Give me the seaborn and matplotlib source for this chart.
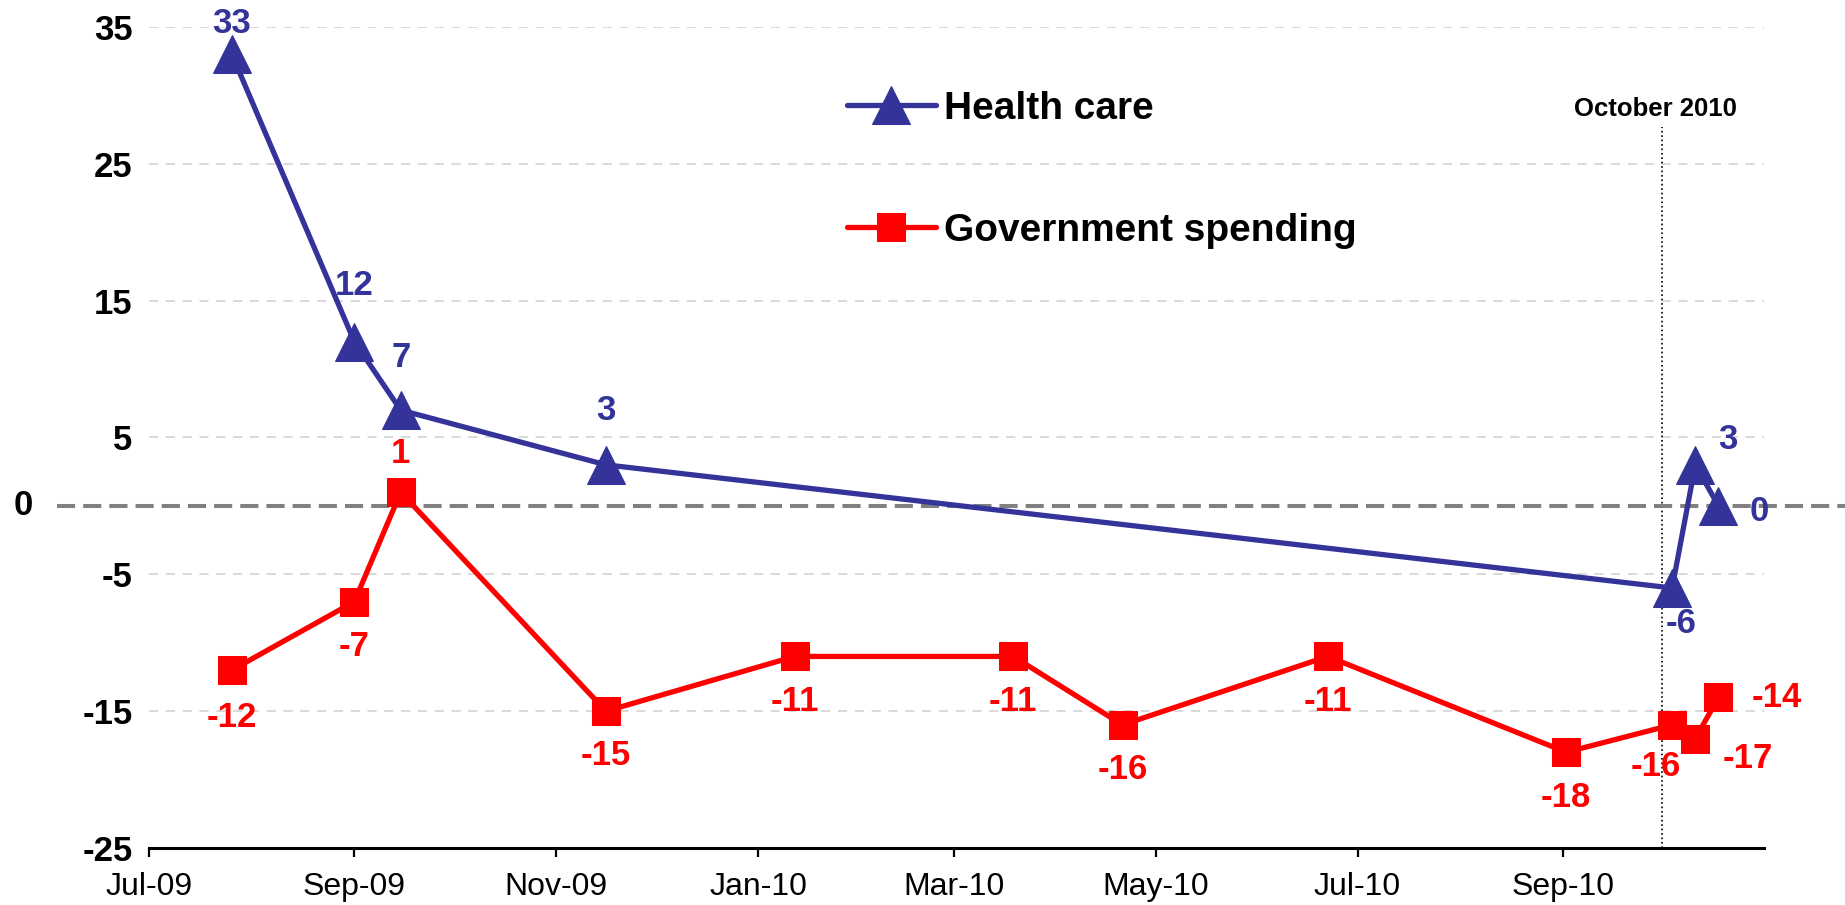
import pandas as pd
import numpy as np
import matplotlib.pyplot as plt
import matplotlib.dates as mdates
import matplotlib.transforms as mtransforms
import seaborn as sns

# values
health_dates = ['2009-07-26', '2009-09-01', '2009-09-15', '2009-11-16',
                '2010-10-04', '2010-10-11', '2010-10-18']
health_values = [33, 12, 7, 3, -6, 3, 0]

gov_dates = ['2009-07-26', '2009-09-01', '2009-09-15', '2009-11-16', '2010-01-12',
             '2010-03-19', '2010-04-21', '2010-06-22', '2010-09-02',
             '2010-10-04', '2010-10-11', '2010-10-18']
gov_values = [-12, -7, 1, -15, -11, -11, -16, -11, -18, -16, -17, -14]

y_ticks = [35, 25, 15, 5, -5, -15, -25]
marker_date = '2010-10-01'

# where each value label sits relative to its point (pixels)
health_offsets = [(0, 31), (0, 56), (0, 53), (0, 54), (9, -36), (33, 25), (41, -6)]
gov_offsets = [(0, -47), (0, -45), (0, 39), (0, -44), (0, -45), (0, -45),
               (0, -45), (0, -45), (0, -45), (-16, -42), (52, -20), (58, 0)]

blue = '#333399'
red = '#ff0000'

sns.set_style('white')
plt.rcParams['font.family'] = ['Liberation Sans', 'DejaVu Sans']
plt.rcParams['text.color'] = 'black'
plt.rcParams['xtick.color'] = 'black'
plt.rcParams['ytick.color'] = 'black'

health = pd.DataFrame({'date': pd.to_datetime(health_dates), 'value': health_values})
gov = pd.DataFrame({'date': pd.to_datetime(gov_dates), 'value': gov_values})

fig = plt.figure(figsize=(18.45, 9.05), dpi=100)
ax = fig.add_axes([0.0808, 0.063, 0.8753, 0.9072])

sns.lineplot(data=gov, x='date', y='value', ax=ax, color=red, lw=3.8,
             marker='s', ms=20, mec=red, label='Government spending', zorder=3)
sns.lineplot(data=health, x='date', y='value', ax=ax, color=blue, lw=3.8,
             marker='^', ms=27, mec=blue, label='Health care', zorder=4)

# value labels
for d, v, (dx, dy) in zip(health['date'], health['value'], health_offsets):
    ax.annotate(str(v), (d, v), xytext=(dx, dy), textcoords='offset pixels',
                ha='center', va='center', color=blue, fontsize=25,
                fontweight='bold', annotation_clip=False, zorder=6)
for d, v, (dx, dy) in zip(gov['date'], gov['value'], gov_offsets):
    ax.annotate(str(v), (d, v), xytext=(dx, dy), textcoords='offset pixels',
                ha='center', va='center', color=red, fontsize=25,
                fontweight='bold', annotation_clip=False, zorder=6)

ax.set_xlim(pd.Timestamp('2009-07-01'), pd.Timestamp('2010-10-31 18:00'))
ax.set_ylim(-25, 35)

# y axis
ax.set_yticks(y_ticks)
ax.set_yticklabels([str(t) for t in y_ticks], fontsize=25, fontweight='bold')
ax.tick_params(axis='y', length=0, pad=12)
ax.yaxis.grid(True, color='#d0d0d0', linestyle=(0, (6, 5)), lw=1.1)

# zero line spans past the axes
ax.axhline(0, xmin=-0.057, xmax=1.06, color='#808080', lw=2.9,
           linestyle=(0, (4.5, 2.0)), clip_on=False, zorder=2)
trans = mtransforms.blended_transform_factory(ax.transAxes, ax.transData)
ax.text(-0.078, 0, '0', transform=trans, ha='center', va='center',
        fontsize=25, fontweight='bold')

# x axis
ax.xaxis.set_major_locator(mdates.MonthLocator(bymonth=[1, 3, 5, 7, 9, 11]))
ax.xaxis.set_major_formatter(mdates.DateFormatter('%b-%y'))
ax.tick_params(axis='x', direction='out', length=6.5, width=1.6, pad=11,
               labelsize=23, bottom=True)
ax.set_xlabel('')
ax.set_ylabel('')

for side in ['top', 'right', 'left']:
    ax.spines[side].set_visible(False)
ax.spines['bottom'].set_linewidth(2.2)
ax.spines['bottom'].set_color('black')

# October 2010 marker
md = pd.Timestamp(marker_date)
ax.axvline(md, ymin=0, ymax=0.878, color='black', lw=1.2, linestyle=':', zorder=1)
tx = mtransforms.blended_transform_factory(ax.transData, ax.transAxes)
ax.text(md - pd.Timedelta(days=2), 0.90, 'October 2010', transform=tx,
        ha='center', va='center', fontsize=18.5, fontweight='bold')

handles, labels = ax.get_legend_handles_labels()
leg = ax.legend(handles[::-1], labels[::-1], loc='center left',
                bbox_to_anchor=(0.432, 0.826), frameon=False,
                prop={'size': 28, 'weight': 'bold'}, handlelength=2.3,
                handletextpad=0.2, labelspacing=2.2, borderpad=0, borderaxespad=0)

plt.savefig('out.png', dpi=100)
